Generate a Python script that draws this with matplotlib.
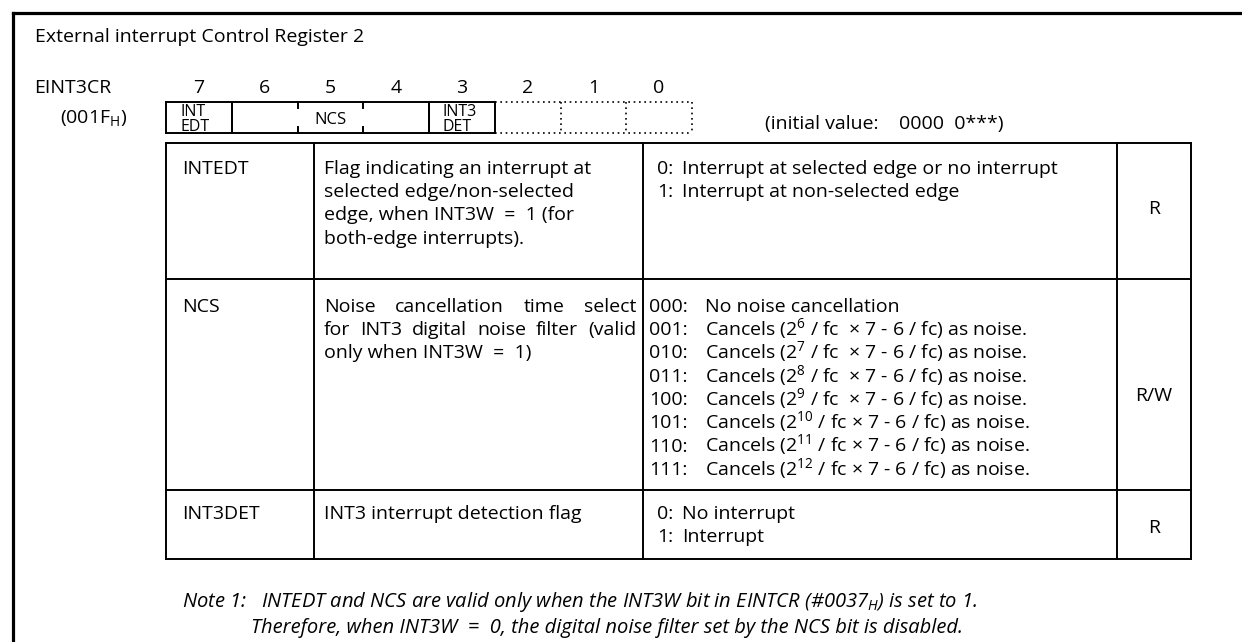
import matplotlib
matplotlib.use("Agg")
import matplotlib.pyplot as plt

plt.rcParams['font.family'] = ['Open Sans', 'DejaVu Sans']
plt.rcParams['mathtext.fontset'] = 'custom'
plt.rcParams['mathtext.rm'] = 'Open Sans'
plt.rcParams['mathtext.it'] = 'Open Sans:italic'

# ---- content ----
TITLE = "External interrupt Control Register 2"
REG_NAME = "EINT3CR"
REG_ADDR = "(001F$_\\mathrm{H}$)"
BIT_NUMBERS = ["7", "6", "5", "4", "3", "2", "1", "0"]
# (label, first cell index, last cell index) - cell 0 is bit 7
BIT_FIELDS = [("INT\nEDT", 0, 0), ("NCS", 1, 3), ("INT3\nDET", 4, 4)]
UNUSED_CELLS = [5, 6, 7]
INITIAL = "(initial value:    0000  0***)"

ROW_NAMES = ["INTEDT", "NCS", "INT3DET"]
ROW_DESC = [
    ["Flag indicating an interrupt at", "selected edge/non-selected",
     "edge, when INT3W  =  1 (for", "both-edge interrupts)."],
    ["Noise cancellation time select", "for INT3 digital noise filter (valid",
     "only when INT3W  =  1)"],
    ["INT3 interrupt detection flag"],
]
DESC_JUSTIFY = [[False] * 4, [True, True, False], [False]]
VAL_CODES = [
    ["0:", "1:"],
    ["000:", "001:", "010:", "011:", "100:", "101:", "110:", "111:"],
    ["0:", "1:"],
]
VAL_TEXT = [
    ["Interrupt at selected edge or no interrupt", "Interrupt at non-selected edge"],
    ["No noise cancellation",
     "Cancels (2$^{6}$ / fc  \u00d7 7 - 6 / fc) as noise.",
     "Cancels (2$^{7}$ / fc  \u00d7 7 - 6 / fc) as noise.",
     "Cancels (2$^{8}$ / fc  \u00d7 7 - 6 / fc) as noise.",
     "Cancels (2$^{9}$ / fc  \u00d7 7 - 6 / fc) as noise.",
     "Cancels (2$^{10}$ / fc \u00d7 7 - 6 / fc) as noise.",
     "Cancels (2$^{11}$ / fc \u00d7 7 - 6 / fc) as noise.",
     "Cancels (2$^{12}$ / fc \u00d7 7 - 6 / fc) as noise."],
    ["No interrupt", "Interrupt"],
]
ROW_ACCESS = ["R", "R/W", "R"]
NOTES = [
    "Note 1:   INTEDT and NCS are valid only when the INT3W bit in EINTCR (#0037$_{H}$) is set to 1.",
    "Therefore, when INT3W  =  0, the digital noise filter set by the NCS bit is disabled.",
]

# ---- layout (pixels, y down) ----
W, H = 1242, 642
CELL_X0, CELL_W = 166, 65.75
REG_TOP, REG_BOT = 102, 133
COLS = [166, 314, 643, 1117, 1191]
ROWS = [143, 279, 490, 559]
FIRST_LINE = [167, 305, 512]
ACCESS_Y = [207, 394, 526]
LINE_STEP = 23.3
FS = 14
LW = 1.4

fig = plt.figure(figsize=(W / 100, H / 100), dpi=100)
ax = fig.add_axes([0, 0, 1, 1])
ax.set_xlim(0, W)
ax.set_ylim(H, 0)
ax.axis('off')
r = fig.canvas.get_renderer()


def line(x0, y0, x1, y1, lw=LW, ls='-'):
    ax.plot([x0, x1], [y0, y1], color='black', lw=lw, ls=ls,
            solid_capstyle='projecting')


def txt(x, y, s, size=FS, ha='left', **kw):
    # y given as visual centre of capitals
    return ax.text(x, y + size * 0.48, s, fontsize=size, ha=ha, va='baseline', **kw)


def justified(x0, x1, y, s, size=FS):
    words = s.split()
    widths = []
    for w in words:
        t = txt(0, 0, w, size=size)
        widths.append(t.get_window_extent(r).width)
        t.remove()
    gap = (x1 - x0 - sum(widths)) / (len(words) - 1)
    x = x0
    for w, wd in zip(words, widths):
        txt(x, y, w, size=size)
        x += wd + gap


# outer frame (top and left only visible)
line(13, 13, W + 5, 13, lw=2.3)
line(13, 13, 13, H + 5, lw=2.3)

txt(35, 35, TITLE)
txt(34, 86, REG_NAME)
txt(60, 116, REG_ADDR)

# bit numbers
for i, b in enumerate(BIT_NUMBERS):
    txt(CELL_X0 + CELL_W * (i + 0.5), 86, b, ha='center')

# register box
edges = [CELL_X0 + CELL_W * i for i in range(9)]
solid_end = edges[5]
line(edges[0], REG_TOP, solid_end, REG_TOP)
line(edges[0], REG_BOT, solid_end, REG_BOT)
for label, a, b in BIT_FIELDS:
    line(edges[a], REG_TOP, edges[a], REG_BOT)
    line(edges[b + 1], REG_TOP, edges[b + 1], REG_BOT)
    for k in range(a + 1, b + 1):
        line(edges[k], REG_TOP, edges[k], REG_TOP + 6)
        line(edges[k], REG_BOT - 6, edges[k], REG_BOT)
    if '\n' in label:
        top, bot = label.split('\n')
        txt(edges[a] + 14, 110, top, size=11.5)
        txt(edges[a] + 14, 125, bot, size=11.5)
    else:
        txt((edges[a] + edges[b + 1]) / 2, 118, label, size=12, ha='center')
dot = (0, (1, 2.2))
line(edges[UNUSED_CELLS[0]], REG_TOP, edges[-1], REG_TOP, lw=1.2, ls=dot)
line(edges[UNUSED_CELLS[0]], REG_BOT, edges[-1], REG_BOT, lw=1.2, ls=dot)
for c in UNUSED_CELLS[1:] + [8]:
    line(edges[c], REG_TOP, edges[c], REG_BOT, lw=1.2, ls=dot)

txt(765, 122, INITIAL)

# table grid
for y in ROWS:
    line(COLS[0], y, COLS[-1], y)
for x in COLS:
    line(x, ROWS[0], x, ROWS[-1])

for i, name in enumerate(ROW_NAMES):
    y0 = FIRST_LINE[i]
    txt(182, y0, name)
    for j, s in enumerate(ROW_DESC[i]):
        if DESC_JUSTIFY[i][j]:
            justified(324, 636, y0 + j * LINE_STEP, s)
        else:
            txt(324, y0 + j * LINE_STEP, s)
    multi = len(VAL_CODES[i][0]) > 2
    for j, (c, s) in enumerate(zip(VAL_CODES[i], VAL_TEXT[i])):
        y = y0 + j * LINE_STEP
        if multi:
            txt(649, y, c)
            txt(705, y, s)
        else:
            txt(657, y, c)
            txt(682, y, s)
    txt((COLS[3] + COLS[4]) / 2, ACCESS_Y[i], ROW_ACCESS[i], ha='center')

txt(182, 600, NOTES[0], size=14.5, style='italic')
txt(251, 626, NOTES[1], size=14.5, style='italic')

fig.savefig("out.png", dpi=100)
